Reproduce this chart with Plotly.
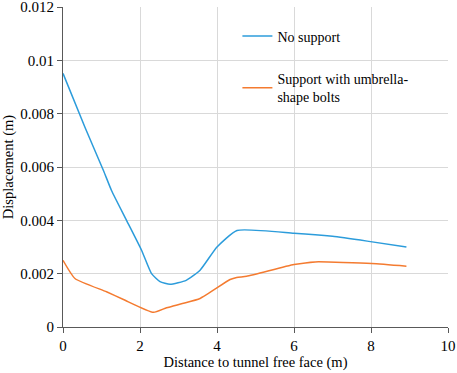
import plotly.graph_objects as go

# Data
x_nosupport = [0, 0.57, 1.05, 1.26, 1.65, 2.04, 2.30, 2.52, 2.78, 3.2, 3.56, 4.0, 4.52, 6.0, 7.0, 7.9, 8.92]
y_nosupport = [0.00951, 0.00749, 0.00587, 0.00512, 0.0040, 0.00288, 0.0020, 0.0017, 0.0016, 0.00175, 0.00213, 0.0030, 0.00362, 0.00352, 0.0034, 0.00322, 0.0030]

x_support = [0, 0.31, 1.13, 1.57, 2.35, 2.69, 3.1, 3.56, 4.34, 4.51, 4.77, 6.0, 6.55, 8.02, 8.92]
y_support = [0.0025, 0.00182, 0.00132, 0.00103, 0.00055, 0.00072, 0.00088, 0.00107, 0.00178, 0.00186, 0.0019, 0.00234, 0.00244, 0.00238, 0.00228]

names = ["No support", "Support with umbrella-<br>shape bolts"]
colors = ["#2C9CDB", "#F47B30"]

x_ticks = [0, 2, 4, 6, 8, 10]
y_ticks = [0, 0.002, 0.004, 0.006, 0.008, 0.01, 0.012]
y_ticklabels = ["0", "0.002", "0.004", "0.006", "0.008", "0.01", "0.012"]

font_family = "Liberation Serif"

fig = go.Figure()
fig.add_trace(go.Scatter(x=x_nosupport, y=y_nosupport, mode="lines", name=names[0],
                         line=dict(color=colors[0], width=1.5, shape="spline", smoothing=0.5),
                         legendgroup="a"))
fig.add_trace(go.Scatter(x=x_support, y=y_support, mode="lines", name=names[1],
                         line=dict(color=colors[1], width=1.5, shape="spline", smoothing=0.5),
                         legendgroup="b"))

axis_common = dict(
    showgrid=True, gridcolor="#D9D9D9", gridwidth=1,
    showline=True, linecolor="#595959", linewidth=1,
    ticks="outside", ticklen=5, tickcolor="#595959",
    zeroline=False, automargin=False, ticklabeloverflow="allow",
    tickfont=dict(family=font_family, size=15, color="#000000"),
)

fig.update_layout(
    width=457, height=373,
    margin=dict(l=63, r=9, t=7, b=46),
    paper_bgcolor="white", plot_bgcolor="white",
    font=dict(family=font_family, size=14, color="#000000"),
    xaxis=dict(range=[0, 10], tickvals=x_ticks, ticktext=[str(v) for v in x_ticks],
               title=dict(text="Distance to tunnel free face (m)", standoff=2,
                          font=dict(family=font_family, size=14.5)),
               **axis_common),
    yaxis=dict(range=[0, 0.012], tickvals=y_ticks, ticktext=y_ticklabels,
               title=dict(text="Displacement (m)", standoff=4,
                          font=dict(family=font_family, size=14.5)),
               **axis_common),
    legend=dict(x=0.453, y=0.958, xanchor="left", yanchor="top",
                bgcolor="rgba(0,0,0,0)", borderwidth=0,
                traceorder="grouped", tracegroupgap=21.5,
                itemwidth=30,
                font=dict(family=font_family, size=14, color="#000000")),
)

fig.write_html("out.html",
               config={"displayModeBar": False},
               post_script="document.body.style.margin='0';document.body.style.overflow='hidden';")
